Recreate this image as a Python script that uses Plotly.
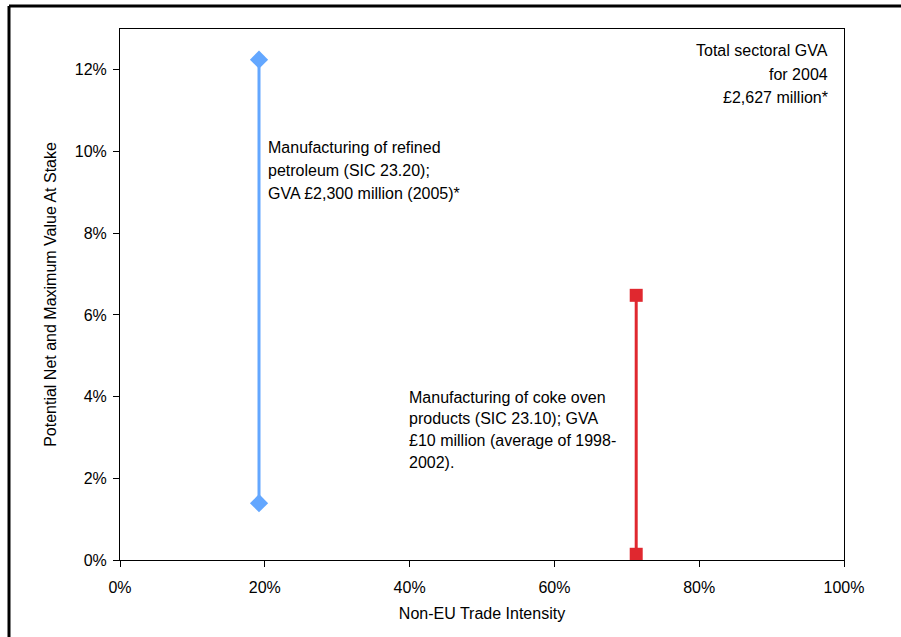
import plotly.graph_objects as go

# Data (fractions)
series_names = ["Manufacturing of refined petroleum (SIC 23.20)",
                "Manufacturing of coke oven products (SIC 23.10)"]
trade_intensity = [0.192, 0.713]
value_min = [0.0139, 0.0014]
value_max = [0.1225, 0.0648]
series_colors = ["#63A7FF", "#E0282F"]
series_symbols = ["diamond", "square"]
x_ticks = [0, 0.2, 0.4, 0.6, 0.8, 1.0]
y_ticks = [0, 0.02, 0.04, 0.06, 0.08, 0.10, 0.12]

note_total = ["Total sectoral GVA", "for 2004", "£2,627 million*"]
note_petroleum = ["Manufacturing of refined", "petroleum (SIC 23.20);",
                  "GVA £2,300 million (2005)*"]
note_coke = ["Manufacturing of coke oven", "products (SIC 23.10); GVA",
             "£10 million (average of 1998-", "2002)."]

FONT = "Arial, 'Liberation Sans', sans-serif"
FS = 16

fig = go.Figure()
for i in range(len(series_names)):
    fig.add_trace(go.Scatter(
        x=[trade_intensity[i], trade_intensity[i]],
        y=[value_min[i], value_max[i]],
        mode="lines+markers",
        name=series_names[i],
        line=dict(color=series_colors[i], width=3),
        marker=dict(symbol=series_symbols[i], size=14 if i == 0 else 13,
                    color=series_colors[i]),
        showlegend=False,
        cliponaxis=False,
    ))

annotations = []
def add_note(lines, x, y, anchor, spacing):
    for k, line in enumerate(lines):
        annotations.append(dict(
            x=x, y=y, xref="x", yref="y", xanchor=anchor, yanchor="middle",
            align=anchor, text=line, showarrow=False, yshift=-k * spacing,
            font=dict(family=FONT, size=FS, color="#000000")))

add_note(note_total, 0.9807, 0.1247, "right", 23.5)
add_note(note_petroleum, 0.2017, 0.1010, "left", 22.8)
add_note(note_coke, 0.3964, 0.0399, "left", 21.8)

# outer frame (top and left edges visible)
left_px, top_px = 9, 6
px_l, px_r, py_t, py_b = 120, 844, 29, 560
xl = (left_px - px_l) / (px_r - px_l)
yt = (py_b - top_px) / (py_b - py_t)
shapes = [
    dict(type="line", xref="paper", yref="paper", x0=xl, x1=xl, y0=-0.2, y1=yt,
         line=dict(color="black", width=3)),
    dict(type="line", xref="paper", yref="paper", x0=xl, x1=1.2, y0=yt, y1=yt,
         line=dict(color="black", width=3)),
]

fig.update_layout(
    width=901, height=637,
    margin=dict(l=120, r=57, t=29, b=77),
    paper_bgcolor="white", plot_bgcolor="white",
    font=dict(family=FONT, size=FS, color="#000000"),
    annotations=annotations,
    shapes=shapes,
    xaxis=dict(range=[0, 1], tickvals=x_ticks, tickformat=".0%",
               showgrid=False, zeroline=False, showline=True, linecolor="black",
               linewidth=1, mirror=True, ticks="outside", ticklen=6,
               tickcolor="black", tickfont=dict(size=FS), ticklabelstandoff=7,
               title=dict(text="Non-EU Trade Intensity", font=dict(size=FS), standoff=12)),
    yaxis=dict(range=[0, 0.13], tickvals=y_ticks, tickformat=".0%",
               showgrid=False, zeroline=False, showline=True, linecolor="black",
               linewidth=1, mirror=True, ticks="outside", ticklen=6,
               tickcolor="black", tickfont=dict(size=FS), ticklabelstandoff=3,
               title=dict(text="Potential Net and Maximum Value At Stake",
                          font=dict(size=FS), standoff=14)),
)

fig.write_html("out.html", config={"displayModeBar": False},
               post_script="document.body.style.margin='0';document.body.style.overflow='hidden';")
